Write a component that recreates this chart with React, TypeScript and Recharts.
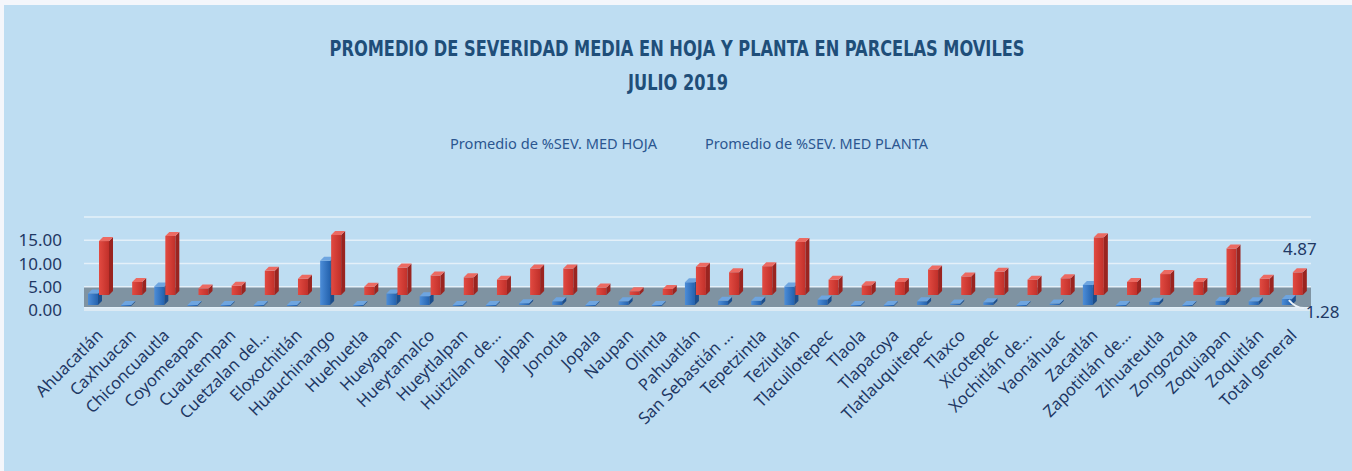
import React from "react";
import {
  BarChart,
  Bar,
  XAxis,
  YAxis,
  CartesianGrid,
  Legend,
  LabelList,
} from "recharts";

const municipios = [
  "Ahuacatlán", "Caxhuacan", "Chiconcuautla", "Coyomeapan", "Cuautempan",
  "Cuetzalan del...", "Eloxochitlán", "Huauchinango", "Huehuetla", "Hueyapan",
  "Hueytamalco", "Hueytlalpan", "Huitzilan de...", "Jalpan", "Jonotla",
  "Jopala", "Naupan", "Olintla", "Pahuatlán", "San Sebastián ...",
  "Tepetzintla", "Teziutlán", "Tlacuilotepec", "Tlaola", "Tlapacoya",
  "Tlatlauquitepec", "Tlaxco", "Xicotepec", "Xochitlán de...", "Yaonáhuac",
  "Zacatlán", "Zapotitlán de...", "Zihuateutla", "Zongozotla", "Zoquiapan",
  "Zoquitlán", "Total general",
];

// Promedio de %SEV. MED HOJA
const sevHoja = [
  2.5, 0, 4.0, 0, 0, 0, 0, 9.5, 0, 2.5,
  1.9, 0, 0, 0.4, 0.8, 0, 0.8, 0, 4.9, 0.9,
  0.9, 4.0, 1.2, 0, 0, 0.8, 0.3, 0.6, 0, 0.3,
  4.3, 0, 0.7, 0, 0.9, 0.8, 1.28,
];

// Promedio de %SEV. MED PLANTA
const sevPlanta = [
  11.6, 2.8, 12.7, 1.4, 2.0, 5.2, 3.5, 12.9, 1.8, 5.9,
  4.2, 3.8, 3.3, 5.7, 5.7, 1.6, 0.8, 1.3, 6.1, 4.9,
  6.2, 11.4, 3.3, 2.1, 2.8, 5.5, 4.0, 5.0, 3.3, 3.6,
  12.4, 2.8, 4.5, 2.8, 10.0, 3.5, 4.87,
];

const yTicks = [0, 5, 10, 15];
// wall lines; the lowest band (0.45 - 5) is the grey floor
const gridLevels = [0.45, 5, 10, 15, 20];

const data = municipios.map((m, i) => ({
  municipio: m,
  hoja: sevHoja[i],
  planta: sevPlanta[i],
}));

const W = 1348;
const H = 466;
const BG = "#BEDDF2";
const NAVY = "#1F3864";
const FONT = "'Noto Sans', 'Open Sans', sans-serif";
const LAST = municipios.length - 1;

// fake 3d column: front face + side + top cap, lifted by "depth row"
function makeColumn(lift: number, grad: string, side: string, top: string) {
  return (props: any) => {
    const { x, y, width, height } = props;
    const d = 4;
    const w = width - d;
    const y0 = y - lift;
    const h = Math.max(height, 1);
    return (
      <g>
        <rect x={x} y={y0} width={w} height={h} fill={`url(#${grad})`} />
        <polygon
          points={`${x + w},${y0} ${x + width},${y0 - d} ${x + width},${y0 + h - d} ${x + w},${y0 + h}`}
          fill={side}
        />
        <polygon
          points={`${x},${y0} ${x + d},${y0 - d} ${x + width},${y0 - d} ${x + w},${y0}`}
          fill={top}
        />
      </g>
    );
  };
}

const BLUE_LIFT = 5;
const RED_LIFT = 15;
const blueColumn = makeColumn(BLUE_LIFT, "gBlue", "#1C4E8C", "#6EA5E0");
const redColumn = makeColumn(RED_LIFT, "gRed", "#9A2420", "#EC6A62");

function MunicipioTick({ x, y, payload }: any) {
  const tx = x - 5;
  return (
    <text
      x={tx}
      y={y}
      dy="0.72em"
      transform={`rotate(-45 ${tx} ${y})`}
      textAnchor="end"
      fill={NAVY}
      fontSize={16.5}
      fontFamily={FONT}
    >
      {payload.value}
    </text>
  );
}

function HojaLabel(props: any) {
  const { x, y, width, index, value } = props;
  if (index !== LAST) return null;
  const ex = x + width;
  return (
    <g>
      <path
        d={`M${ex - 7},${y - BLUE_LIFT + 1} Q${ex},${y + 4} ${ex + 8},${y + 4}`}
        stroke="#E9F2F9"
        strokeWidth={2}
        fill="none"
      />
      <text x={ex + 10} y={y + 14} fill={NAVY} fontSize={17} fontFamily={FONT}>
        {Number(value).toFixed(2)}
      </text>
    </g>
  );
}

function PlantaLabel(props: any) {
  const { x, y, width, index, value } = props;
  if (index !== LAST) return null;
  return (
    <text
      x={x + width / 2}
      y={y - RED_LIFT - 17}
      textAnchor="middle"
      fill={NAVY}
      fontSize={17}
      fontFamily={FONT}
    >
      {Number(value).toFixed(2)}
    </text>
  );
}

function renderLegend() {
  return (
    <svg width={W} height={30}>
      <text x={446} y={19} textLength={207} lengthAdjust="spacingAndGlyphs"
        fill="#2B5690" fontSize={15} fontFamily={FONT}>
        Promedio de %SEV. MED HOJA
      </text>
      <text x={701} y={19} textLength={223} lengthAdjust="spacingAndGlyphs"
        fill="#2B5690" fontSize={15} fontFamily={FONT}>
        Promedio de %SEV. MED PLANTA
      </text>
    </svg>
  );
}

export default function App() {
  return (
    <div style={{ position: "absolute", left: 0, top: 0, width: 1352, height: 471, background: "#F4F6FB" }}>
      <div style={{ position: "absolute", left: 4, top: 5, width: W, height: H, background: BG }}>
        <BarChart
          width={W}
          height={H}
          data={data}
          barSize={14}
          barGap={-3}
          margin={{ top: 212, right: 41, left: 0, bottom: 41 }}
        >
          <defs>
            <linearGradient id="gBlue" x1="0" y1="0" x2="1" y2="0">
              <stop offset="0%" stopColor="#4C8DD8" />
              <stop offset="100%" stopColor="#2462AE" />
            </linearGradient>
            <linearGradient id="gRed" x1="0" y1="0" x2="1" y2="0">
              <stop offset="0%" stopColor="#E24A41" />
              <stop offset="100%" stopColor="#C1302A" />
            </linearGradient>
          </defs>
          <CartesianGrid
            vertical={false}
            horizontalValues={gridLevels}
            stroke="#E4F0F9"
            strokeWidth={1.6}
            strokeDasharray=""
            horizontalFill={["none", "none", "none", "#7F93A2", "none"]}
            fillOpacity={1}
          />
          <XAxis
            dataKey="municipio"
            interval={0}
            height={120}
            tickSize={0}
            tickMargin={18}
            axisLine={{ stroke: "#DCEAF4", strokeWidth: 2 }}
            tick={<MunicipioTick />}
          />
          <YAxis
            width={80}
            domain={[0, 20]}
            ticks={yTicks}
            interval={0}
            tickFormatter={(v: number) => v.toFixed(2)}
            axisLine={false}
            tickLine={false}
            tickSize={0}
            tickMargin={22}
            tick={{ fill: NAVY, fontSize: 17, fontFamily: FONT }}
          />
          <Legend
            layout="horizontal"
            verticalAlign="middle"
            align="center"
            wrapperStyle={{ top: 125, left: 0, width: W, height: 30 }}
            content={renderLegend}
          />
          <Bar dataKey="hoja" name="Promedio de %SEV. MED HOJA" fill="#2E75C6"
            shape={blueColumn} isAnimationActive={false}>
            <LabelList dataKey="hoja" content={<HojaLabel />} />
          </Bar>
          <Bar dataKey="planta" name="Promedio de %SEV. MED PLANTA" fill="#D83B34"
            shape={redColumn} isAnimationActive={false}>
            <LabelList dataKey="planta" content={<PlantaLabel />} />
          </Bar>
        </BarChart>
        <svg
          width={W}
          height={110}
          style={{ position: "absolute", left: 0, top: 0, pointerEvents: "none" }}
        >
          <text x={673} y={51} textAnchor="middle" textLength={695} lengthAdjust="spacingAndGlyphs"
            fill="#1F4E79" fontWeight="bold" fontSize={21}
            fontFamily="'Liberation Sans Narrow', 'DejaVu Sans Condensed', sans-serif">
            PROMEDIO DE SEVERIDAD MEDIA EN HOJA Y PLANTA EN PARCELAS MOVILES
          </text>
          <text x={674} y={85} textAnchor="middle" textLength={100} lengthAdjust="spacingAndGlyphs"
            fill="#1F4E79" fontWeight="bold" fontSize={21}
            fontFamily="'Liberation Sans Narrow', 'DejaVu Sans Condensed', sans-serif">
            JULIO 2019
          </text>
        </svg>
      </div>
    </div>
  );
}
